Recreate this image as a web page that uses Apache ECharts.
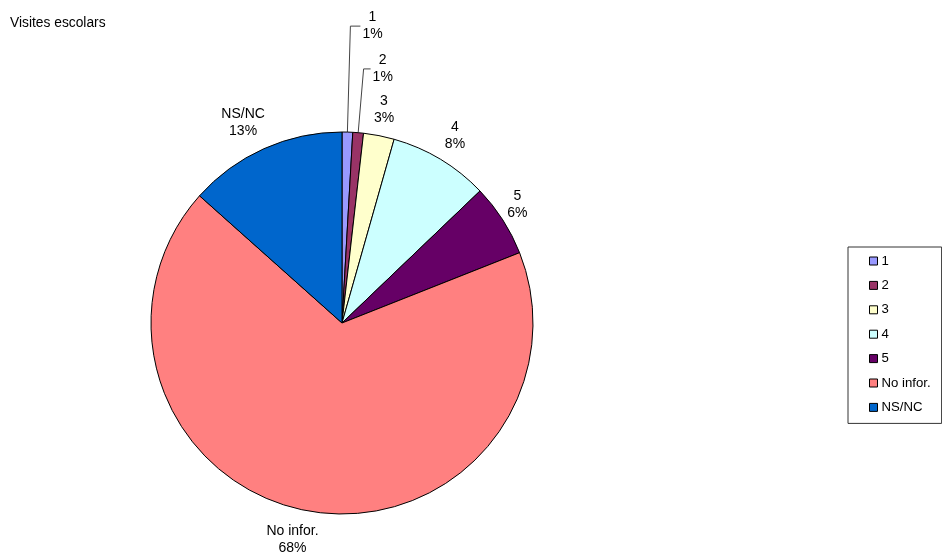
<!DOCTYPE html>
<html>
<head>
<meta charset="utf-8">
<script src="https://cdn.jsdelivr.net/npm/echarts@6/dist/echarts.min.js"></script>
<style>
html,body{margin:0;padding:0;background:#fff;}
#chart{width:942px;height:552px;}
</style>
</head>
<body>
<div id="chart"></div>
<script>
var titleText = 'Visites escolars';
var categories = ['1', '2', '3', '4', '5', 'No infor.', 'NS/NC'];
var values = [0.9, 0.9, 2.6, 8.45, 6.15, 67.6, 13.4];
var colors = ['#9999ff', '#993366', '#ffffcc', '#ccffff', '#660066', '#ff8080', '#0066cc'];

// label placement styles (not data)
var lineShow = [true, true, false, false, false, false, false];
var lineLen = [106, 64, 26, 28, 28, 29, 29];
var lineLen2 = [10, 7, 0, 0, -9, 11, 9];
var labelDist = [2, 2, 0, 0, 0, 0, 0];

var font = 'Liberation Sans, Arial, sans-serif';

var data = categories.map(function (c, i) {
  return {
    name: c,
    value: values[i],
    itemStyle: { color: colors[i] },
    label: { distanceToLabelLine: labelDist[i] },
    labelLine: { show: lineShow[i], length: lineLen[i], length2: lineLen2[i] }
  };
});

var chart = echarts.init(document.getElementById('chart'), null, { renderer: 'canvas' });
chart.setOption({
  animation: false,
  backgroundColor: '#ffffff',
  title: {
    text: titleText,
    left: 10,
    top: 16,
    padding: 0,
    textStyle: { fontFamily: font, fontSize: 13.8, fontWeight: 'normal', color: '#000' }
  },
  legend: {
    orient: 'vertical',
    left: 848,
    top: 247,
    padding: [7, 11, 9, 21],
    borderColor: '#333',
    borderWidth: 1,
    itemWidth: 8,
    itemHeight: 8,
    itemGap: 10.4,
    icon: 'rect',
    itemStyle: { borderColor: '#000', borderWidth: 1 },
    textStyle: { fontFamily: font, fontSize: 13.2, color: '#000', lineHeight: 14, padding: [0, 0, 0, -1] },
    data: categories
  },
  series: [{
    type: 'pie',
    center: [342, 323],
    radius: 191,
    startAngle: 90,
    clockwise: true,
    avoidLabelOverlap: false,
    percentPrecision: 0,
    itemStyle: { borderColor: '#000', borderWidth: 1 },
    label: {
      show: true,
      position: 'outside',
      formatter: '{c|{b}}\n{c|{d}%}',
      color: '#000',
      fontFamily: font,
      fontSize: 14,
      rich: {
        c: { align: 'center', fontFamily: font, fontSize: 14, lineHeight: 17, color: '#000' }
      }
    },
    labelLine: {
      smooth: false,
      lineStyle: { color: '#444', width: 1 }
    },
    labelLayout: function (params) {
      if (params.dataIndex >= 2) {
        return { align: 'center', verticalAlign: 'middle' };
      }
      return {};
    },
    emphasis: { disabled: true },
    data: data
  }]
});
</script>
</body>
</html>
